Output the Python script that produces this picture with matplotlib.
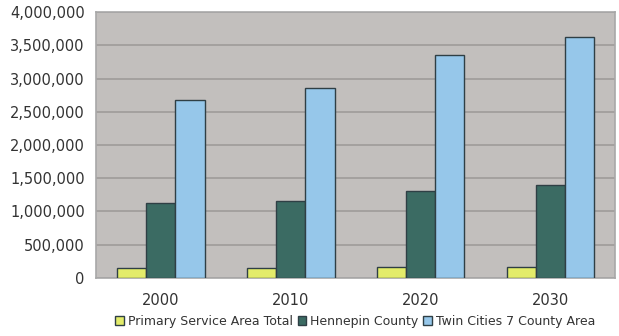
import numpy as np
import matplotlib
matplotlib.use("Agg")
import matplotlib.pyplot as plt
from matplotlib.ticker import FuncFormatter

years = ["2000", "2010", "2020", "2030"]
primary = [150000, 150000, 170000, 170000]
hennepin = [1120000, 1160000, 1300000, 1400000]
twin_cities = [2670000, 2860000, 3350000, 3620000]

series = [
    ("Primary Service Area Total", primary, "#e3ec6a"),
    ("Hennepin County", hennepin, "#3b6b63"),
    ("Twin Cities 7 County Area", twin_cities, "#96c7ea"),
]

fig = plt.figure(figsize=(6.19, 3.36), dpi=100)
ax = fig.add_axes([0.155, 0.173, 0.839, 0.791])
ax.set_facecolor("#c2bfbd")

x = np.arange(len(years))
width = 0.225
for i, (name, vals, color) in enumerate(series):
    ax.bar(x + (i - 1) * width, vals, width, color=color, edgecolor="#2f3f45",
           linewidth=1.0, label=name, zorder=3)

ax.set_xlim(-0.5, len(years) - 0.5)
ax.set_ylim(0, 4000000)
ax.set_yticks(np.arange(0, 4000001, 500000))
ax.yaxis.set_major_formatter(FuncFormatter(lambda v, p: f"{int(v):,}"))
ax.set_xticks(x)
ax.set_xticklabels(years)
ax.grid(axis="y", color="#9e9b99", linewidth=1.2, zorder=0)

for s in ax.spines.values():
    s.set_color("#a8a8a8")
    s.set_linewidth(1.2)

ax.tick_params(axis="y", length=0, labelsize=10.5, colors="#333333", pad=8)
ax.tick_params(axis="x", length=0, labelsize=10.5, colors="#333333", pad=11)

fig.legend(loc="lower center", bbox_to_anchor=(0.574, -0.01), ncol=3, frameon=False,
           fontsize=9, handlelength=0.7, handleheight=0.7, handletextpad=0.3,
           columnspacing=0.4, labelcolor="#333333")

fig.savefig("out.png", dpi=100, facecolor="white")
